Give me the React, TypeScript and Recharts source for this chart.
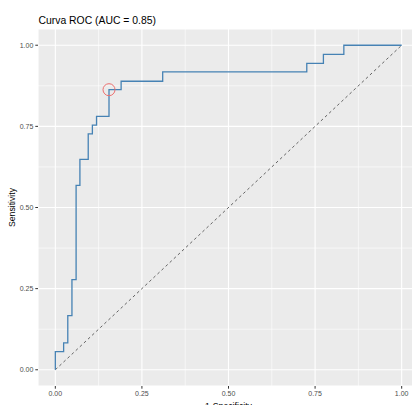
import React from 'react';
import {
  ComposedChart,
  Line,
  XAxis,
  YAxis,
  CartesianGrid,
  ReferenceLine,
  ReferenceDot,
  Label,
  Customized,
} from 'recharts';

// ROC corners (stepBefore: vertical first, then across)
const rocFpr = [0, 0.024, 0.036, 0.048, 0.06, 0.071, 0.095, 0.107, 0.119, 0.155, 0.19, 0.31, 0.726, 0.774, 0.833, 1.0];
const rocTpr = [0, 0.056, 0.083, 0.167, 0.278, 0.568, 0.648, 0.727, 0.754, 0.781, 0.863, 0.889, 0.918, 0.944, 0.972, 1.0];

// best threshold point (circled)
const bestFpr = 0.155;
const bestTpr = 0.863;

const majorTicks = [0, 0.25, 0.5, 0.75, 1];
const minorTicks = [0.125, 0.375, 0.625, 0.875];
const tickLabels = ['0.00', '0.25', '0.50', '0.75', '1.00'];

const chartTitle = 'Curva ROC (AUC = 0.85)';
const xTitle = '1-Specificity';
const yTitle = 'Sensitivity';

const FONT = '"Liberation Sans", Arial, sans-serif';

const data = rocFpr.map((x, i) => ({ fpr: x, tpr: rocTpr[i] }));

const fmt = (v: number) => {
  const i = majorTicks.indexOf(v);
  return i >= 0 ? tickLabels[i] : String(v);
};

export default function App() {
  return (
    <div
      style={{
        position: 'absolute',
        left: 0,
        top: 0,
        width: 412,
        height: 405,
        overflow: 'hidden',
        background: '#fff',
        fontFamily: FONT,
      }}
    >
      <ComposedChart
        width={419}
        height={420}
        data={data}
        margin={{ top: 29, right: 0, bottom: 0, left: 0 }}
      >
        <CartesianGrid fill="#EBEBEB" stroke="#FFFFFF" strokeWidth={1.1} />
        {minorTicks.map((v) => (
          <ReferenceLine key={'vx' + v} x={v} stroke="#FFFFFF" strokeWidth={0.6} />
        ))}
        {minorTicks.map((v) => (
          <ReferenceLine key={'hy' + v} y={v} stroke="#FFFFFF" strokeWidth={0.6} />
        ))}
        <XAxis
          dataKey="fpr"
          type="number"
          domain={[-0.05, 1.05]}
          ticks={majorTicks}
          tickFormatter={fmt}
          allowDataOverflow
          axisLine={false}
          tickSize={2.7}
          tickMargin={2}
          tickLine={{ stroke: '#333333', strokeWidth: 1 }}
          tick={{ fontSize: 7, fill: '#4D4D4D', fontFamily: FONT }}
          height={34}
        >
          <Label
            content={(props: any) => {
              const vb = props.viewBox || { x: 38, y: 386, width: 381 };
              return (
                <text
                  x={vb.x + vb.width / 2}
                  y={vb.y + 22.5}
                  textAnchor="middle"
                  fontSize={8.7}
                  fill="#000"
                  fontFamily={FONT}
                >
                  {xTitle}
                </text>
              );
            }}
          />
        </XAxis>
        <YAxis
          type="number"
          domain={[-0.05, 1.05]}
          ticks={majorTicks}
          tickFormatter={fmt}
          allowDataOverflow
          axisLine={false}
          tickSize={2.7}
          tickMargin={2}
          tickLine={{ stroke: '#333333', strokeWidth: 1 }}
          tick={{ fontSize: 7, fill: '#4D4D4D', fontFamily: FONT }}
          width={38}
        >
          <Label
            content={(props: any) => {
              const vb = props.viewBox || { x: 0, y: 29, height: 357 };
              const cx = 12.3;
              const cy = vb.y + vb.height / 2;
              return (
                <text
                  x={cx}
                  y={cy}
                  transform={`rotate(-90 ${cx} ${cy})`}
                  textAnchor="middle"
                  dominantBaseline="central"
                  fontSize={8.7}
                  fill="#000"
                  fontFamily={FONT}
                >
                  {yTitle}
                </text>
              );
            }}
          />
        </YAxis>
        <ReferenceLine
          segment={[
            { x: 0, y: 0 },
            { x: 1, y: 1 },
          ]}
          stroke="#555555"
          strokeWidth={0.9}
          strokeDasharray="2.8 2.8"
        />
        <Line
          type="stepBefore"
          dataKey="tpr"
          stroke="#4682B4"
          strokeWidth={1.3}
          dot={false}
          activeDot={false}
          isAnimationActive={false}
        />
        <ReferenceDot
          x={bestFpr}
          y={bestTpr}
          r={6}
          fill="none"
          stroke="#EC7070"
          strokeWidth={1}
        />
        <Customized
          component={() => (
            <text x={38.5} y={24} fontSize={10.4} fill="#000" fontFamily={FONT}>
              {chartTitle}
            </text>
          )}
        />
      </ComposedChart>
    </div>
  );
}
